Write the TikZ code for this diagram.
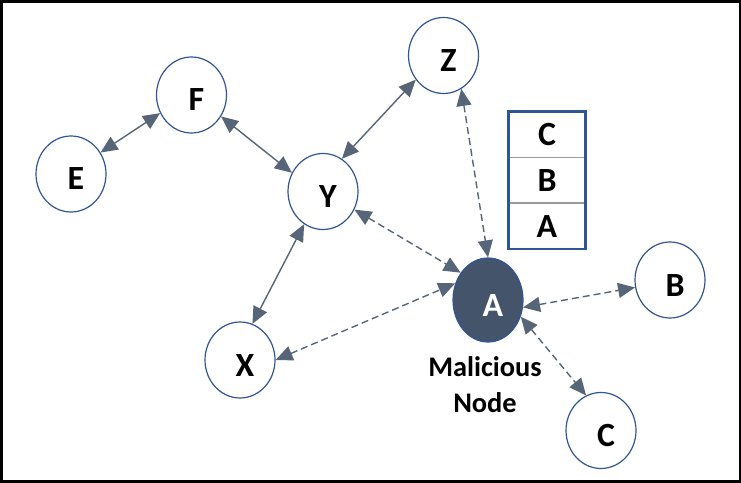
\documentclass[tikz,border=0pt]{standalone}
\usepackage{fontspec}
\setmainfont{Carlito}
\usetikzlibrary{arrows.meta,%
                shapes,positioning}
\definecolor{nodeblue}{RGB}{47,85,151}
\definecolor{slate}{RGB}{68,84,106}

\begin{document}
\begin{tikzpicture}[x=1bp,y=-1bp]
  \tikzset{VertexStyle/.style = {shape          = ellipse,
                                 draw           = nodeblue,
                                 line width     = 1.2bp,
                                 fill           = white,
                                 text           = black,
                                 font           = \fontsize{34}{36}\selectfont\bfseries,
                                 inner sep      = 0pt,
                                 minimum width  = 70bp,
                                 minimum height = 76bp,
                                 text height    = 32bp,
                                 text depth     = 0pt,
                                 execute at begin node = {\hspace*{10bp}}},
           BadStyle/.style  = {VertexStyle, fill = slate, text = white,
                                 minimum height = 84bp},
           CellStyle/.style = {draw = gray!80, line width = 0.8bp,
                                 minimum width = 76bp, minimum height = 45bp,
                                 inner sep = 0pt,
                                 font = \fontsize{34}{36}\selectfont\bfseries},
           Link/.style      = {draw = slate!90, line width = 1.4bp,
                                 {Triangle[length=17bp,width=15bp]}-{Triangle[length=17bp,width=15bp]}},
           Suspect/.style   = {Link, dash pattern = on 7bp off 4bp}}
  \useasboundingbox (0,0) rectangle (741,483);
  \draw[line width=3bp] (1.5,1.5) rectangle (740,481);
  %%% NODES %%%
  \node[VertexStyle] (F) at (191.5,95) {F};
  \node[VertexStyle] (E) at (71,174) {E};
  \node[VertexStyle] (Z) at (443.5,55.5) {Z};
  \node[VertexStyle] (Y) at (323,191.5) {Y};
  \node[VertexStyle] (X) at (240,360) {X};
  \node[VertexStyle] (B) at (670,280) {B};
  \node[VertexStyle] (C) at (601,430.5) {C};
  \node[BadStyle] (A) at (488,300) {A};
  \node[font=\fontsize{28.5}{36}\selectfont\bfseries, align=center] (mal) at (485,385) {Malicious\\Node};
  %%% STACK %%%
  \node[CellStyle] (top) at (547,134.5) {C};
  \node[CellStyle, below=0pt of top] (mid) {B};
  \node[CellStyle, below=0pt of mid] (bot) {A};
  \draw[nodeblue, line width=2.5bp] (top.north west) rectangle (bot.south east);
  %%% LINKS %%%
  \draw[Link] (E.36) -- (F.210);
  \draw[Link] (F.-36) -- (Y.149);
  \draw[Link] (Y.60) -- (Z.221);
  \draw[Link] (Y.240) -- (X.71);
  %
  \draw[Suspect] (Y.-30) -- (A.135);
  \draw[Suspect] (Z.-62) -- (A.north);
  \draw[Suspect] (X.east) -- (A.153);
  \draw[Suspect] (A.-12) -- (B.192);
  \draw[Suspect] (A.-27) -- (C.113);
\end{tikzpicture}
\end{document}
